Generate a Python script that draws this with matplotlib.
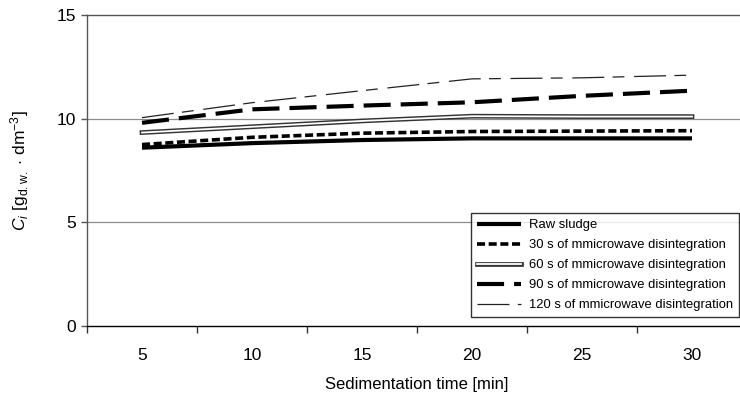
import matplotlib
matplotlib.use('Agg')
import matplotlib.pyplot as plt
import matplotlib.patheffects as pe
from matplotlib.ticker import FixedLocator

plt.rcParams['font.family'] = ['Liberation Sans', 'DejaVu Sans']
plt.rcParams['mathtext.fontset'] = 'custom'
plt.rcParams['mathtext.rm'] = 'Liberation Sans'
plt.rcParams['mathtext.it'] = 'Liberation Sans:italic'
plt.rcParams['lines.scale_dashes'] = False

# sedimentation time [min]
times = [5, 10, 15, 20, 25, 30]

# concentration C_i [g d.w. / dm3]
raw_sludge = [8.60, 8.82, 8.97, 9.05, 9.05, 9.05]
mw_30s = [8.75, 9.10, 9.30, 9.38, 9.40, 9.42]
mw_60s = [9.33, 9.61, 9.89, 10.12, 10.10, 10.10]
mw_90s = [9.80, 10.45, 10.63, 10.79, 11.10, 11.35]
mw_120s = [10.05, 10.77, 11.35, 11.92, 11.97, 12.10]

labels = ['Raw sludge',
          '30 s of mmicrowave disintegration',
          '60 s of mmicrowave disintegration',
          '90 s of mmicrowave disintegration',
          '120 s of mmicrowave disintegration']

fig = plt.figure(figsize=(7.4, 4.03), dpi=100)
ax = fig.add_axes([87 / 740, 77 / 403, 660 / 740, 311 / 403])

# grid lines at 5 and 10 only
for yv in [5, 10]:
    ax.axhline(yv, color='#8c8c8c', linewidth=0.9, zorder=1)

ax.plot(times, raw_sludge, color='black', linewidth=3.0, solid_capstyle='butt',
        label=labels[0], zorder=3)
ax.plot(times, mw_30s, color='black', linewidth=2.6, dashes=(5.8, 2.6),
        label=labels[1], zorder=3)
# double line: dark outline with a white core
ax.plot(times, mw_60s, color='white', linewidth=1.3, label=labels[2], zorder=3,
        path_effects=[pe.Stroke(linewidth=3.4, foreground='#333333'), pe.Normal()])
ax.plot(times, mw_90s, color='black', linewidth=3.0, dashes=(19.5, 7.2),
        label=labels[3], zorder=3)
ax.plot(times, mw_120s, color='#222222', linewidth=0.9, dashes=(23, 6, 8.5, 7),
        label=labels[4], zorder=3)

ax.set_xlim(2.5, 32.5)
ax.set_ylim(0, 15)

ax.xaxis.set_major_locator(FixedLocator(times))
ax.xaxis.set_minor_locator(FixedLocator([2.5 + 5 * k for k in range(7)]))
ax.tick_params(axis='x', which='major', length=0, pad=16, labelsize=12.5)
ax.tick_params(axis='x', which='minor', length=5, width=1, color='#333333')
ax.set_yticks([0, 5, 10, 15])
ax.tick_params(axis='y', length=4, width=1, color='#555555', pad=4, labelsize=12.5)

for side in ['left', 'top', 'right']:
    ax.spines[side].set_color('#555555')
    ax.spines[side].set_linewidth(1.0)
ax.spines['bottom'].set_color('black')
ax.spines['bottom'].set_linewidth(1.0)

ax.set_xlabel('Sedimentation time [min]', fontsize=12, labelpad=10)
ax.set_ylabel(r'$C_i$ [g$_{\mathrm{d.w.}}$ $\cdot$ dm$^{-3}$]', fontsize=12.5, labelpad=18)

leg = ax.legend(loc='lower right', bbox_to_anchor=(739 / 740, 86 / 403),
                bbox_transform=fig.transFigure, borderaxespad=0, fontsize=9.4,
                frameon=True, fancybox=False, handlelength=3.4, handletextpad=0.6,
                labelspacing=0.6, borderpad=0.45)
leg.get_frame().set_edgecolor('black')
leg.get_frame().set_linewidth(1.0)

fig.savefig('out.png', dpi=100)
